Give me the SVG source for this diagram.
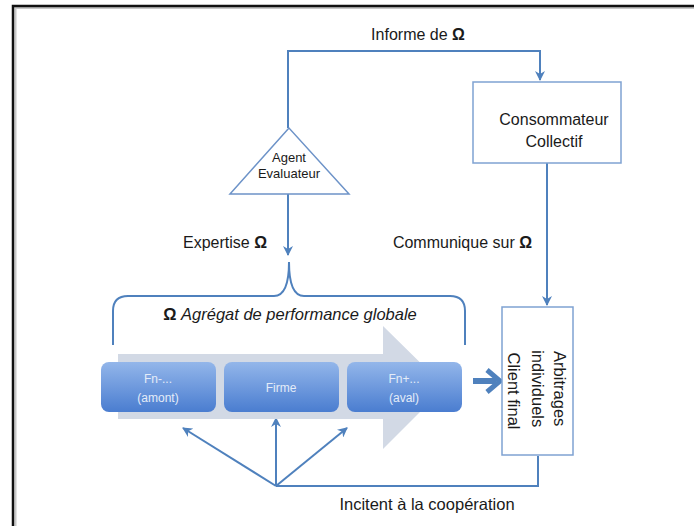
<svg xmlns="http://www.w3.org/2000/svg" width="694" height="526" viewBox="0 0 694 526">
<style>
.t{font-family:"Liberation Sans",Arial,sans-serif;fill:#1a1a1a}
.ln{fill:none;stroke:#4f81bd;stroke-width:2}
.bx{fill:#ffffff;stroke:#7fa2d2;stroke-width:1.5}
.cb{fill:url(#g)}
.ct{font-family:"Liberation Sans",Arial,sans-serif;fill:#e4ecf8;font-size:12px;text-anchor:middle}
</style>
<defs>
<marker id="a" viewBox="0 0 10 10" refX="9" refY="5" markerWidth="5" markerHeight="5" orient="auto" markerUnits="strokeWidth">
<path d="M0,0 L10,5 L0,10 L3,5 Z" fill="#4f81bd"/>
</marker>
<linearGradient id="g" x1="0" y1="0" x2="0" y2="1">
<stop offset="0" stop-color="#93b6ea"/>
<stop offset="1" stop-color="#4a7dd0"/>
</linearGradient>
</defs>
<rect width="694" height="526" fill="#fff"/>
<path d="M15.5,526 V8 H694" fill="none" stroke="#c8c8c8" stroke-width="2"/>
<path d="M13,526 V6 H694" fill="none" stroke="#111" stroke-width="2.5"/>

<g id="connectors">
<path class="ln" d="M288,128 V51 H540 V80" marker-end="url(#a)"/>
<path class="ln" d="M288,194 V255" marker-end="url(#a)"/>
<path class="ln" d="M547,163 V305" marker-end="url(#a)"/>
<path class="ln" d="M538,456 V486 H276"/>
<path class="ln" d="M276,486 L183,428" marker-end="url(#a)"/>
<path class="ln" d="M276,486 V418" marker-end="url(#a)"/>
<path class="ln" d="M276,486 L347,428" marker-end="url(#a)"/>
<path d="M473,381 H496" stroke="#4f81bd" stroke-width="6" fill="none"/>
<path d="M487,370 L500,381 L487,392" stroke="#4f81bd" stroke-width="5" fill="none" stroke-linejoin="miter"/>
<path d="M113,345 V311 Q113,296 128,296 H274 Q289,296 289,262 Q289,296 304,296 H450 Q465,296 465,311 V345" fill="none" stroke="#4f81bd" stroke-width="2"/>
</g>

<text class="t" x="418" y="40" font-size="16" text-anchor="middle">Informe de <tspan font-weight="bold">Ω</tspan></text>
<text class="t" x="267" y="248" font-size="16" text-anchor="end">Expertise <tspan font-weight="bold">Ω</tspan></text>
<text class="t" x="532" y="248" font-size="16" text-anchor="end">Communique sur <tspan font-weight="bold">Ω</tspan></text>
<text class="t" x="290" y="320" font-size="16.5" text-anchor="middle"><tspan font-weight="bold">Ω</tspan> <tspan font-style="italic">Agrégat de performance globale</tspan></text>
<text class="t" x="427" y="510" font-size="16.5" text-anchor="middle">Incitent à la coopération</text>

<g id="consommateur">
<rect class="bx" x="473" y="82" width="148" height="81"/>
<text class="t" x="554" y="125" font-size="16" text-anchor="middle">Consommateur</text>
<text class="t" x="554" y="147" font-size="16" text-anchor="middle">Collectif</text>
</g>

<g id="agent">
<polygon points="289,128 230,194 349,194" fill="#fff" stroke="#6d93c8" stroke-width="1.5"/>
<text class="t" x="289" y="162" font-size="13" text-anchor="middle">Agent</text>
<text class="t" x="289" y="178" font-size="13" text-anchor="middle">Evaluateur</text>
</g>

<g id="arbitrages">
<rect class="bx" x="502" y="307" width="71" height="148"/>
<text class="t" font-size="16.5" text-anchor="middle" transform="translate(537,391) rotate(90)">
<tspan x="0" y="-17">Arbitrages</tspan>
<tspan x="0" y="5">individuels</tspan>
<tspan x="0" y="29">Client final</tspan>
</text>
</g>

<g id="chaine">
<polygon points="118,354 383,354 383,326 445,387 383,449 383,419 118,419" fill="#d2d9e5"/>
</g>

<g id="fn-moins">
<rect class="cb" x="101" y="362" width="115" height="50" rx="8"/>
<text class="ct" x="158" y="383">Fn-...</text>
<text class="ct" x="158" y="402">(amont)</text>
</g>
<g id="firme">
<rect class="cb" x="224" y="362" width="115" height="50" rx="8"/>
<text class="ct" x="281" y="392">Firme</text>
</g>
<g id="fn-plus">
<rect class="cb" x="347" y="362" width="115" height="50" rx="8"/>
<text class="ct" x="404" y="383">Fn+...</text>
<text class="ct" x="404" y="402">(aval)</text>
</g>
</svg>
